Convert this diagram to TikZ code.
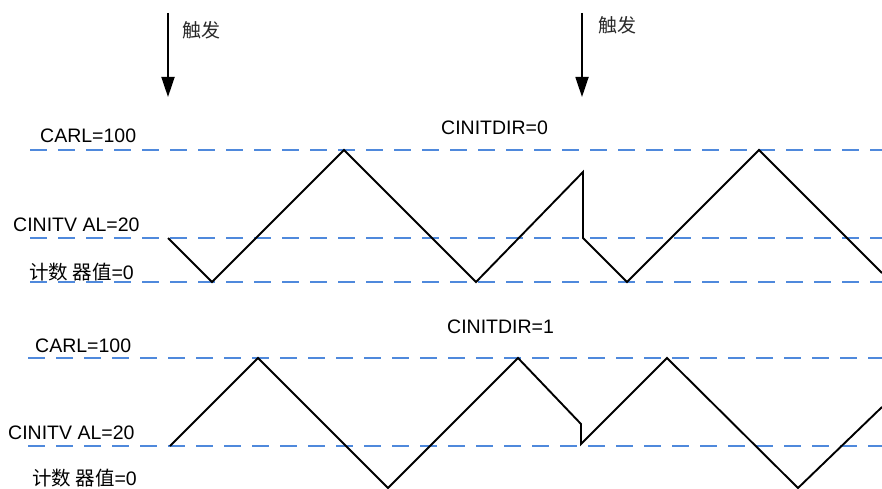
\documentclass[tikz,border=0pt]{standalone}
\usepackage{fontspec}
\setmainfont{Liberation Sans}
\newfontfamily\cjk{Noto Sans CJK SC}
\definecolor{levelblue}{RGB}{79, 137, 220}
\definecolor{trigray}{RGB}{40, 40, 40}
\usetikzlibrary{arrows.meta, positioning}

\begin{document}
\begin{tikzpicture}[x=1pt, y=-1pt,
    lbl/.style={anchor=west, inner sep=0pt, font=\fontsize{19.5}{20}\selectfont},
    cnlbl/.style={anchor=west, inner sep=0pt, text=trigray, font=\cjk\fontsize{19}{20}\selectfont},
    level/.style={levelblue, line width=2.3pt, dash pattern=on 17pt off 11pt},
    wave/.style={black, line width=1.9pt, line join=miter},
    trig/.style={line width=1.8pt, -{Triangle[length=20pt, width=13pt]}}]
    \useasboundingbox (0,0) rectangle (882,489);
    % trigger arrows
    \coordinate (t1s) at (168,13);
    \coordinate (t1e) at (168,97);
    \coordinate (t2s) at (582,13);
    \coordinate (t2e) at (582,97);
    \draw[trig] (t1s) -- (t1e);
    \draw[trig] (t2s) -- (t2e);
    \node[cnlbl] (trigA) at (182,30) {触发};
    \node[cnlbl] (trigB) at (598,25) {触发};
    % CINITDIR=0
    \node[lbl] (dirA) at (441,128) {CINITDIR=0};
    \node[lbl] (carlA) at (40,136) {CARL=100};
    \node[lbl] (valA) at (13,225) {CINITV AL=20};
    \node[lbl] (zeroA) at (29,272) {{\cjk 计数 器值}=0};
    \draw[level] (30,150) -- (882,150);
    \draw[level] (30,238) -- (882,238);
    \draw[level] (30,282) -- (882,282);
    \draw[wave] (168,238) -- (212,282) -- (344,150) -- (476,282) -- (583,172)
        -- (583,238) -- (627,282) -- (759,150) -- (882,273);
    % CINITDIR=1
    \node[lbl] (dirB) at (447,327) {CINITDIR=1};
    \node[lbl] (carlB) at (35,346) {CARL=100};
    \node[lbl] (valB) at (8,433) {CINITV AL=20};
    \node[lbl] (zeroB) at (32,478) {{\cjk 计数 器值}=0};
    \draw[level] (28,358) -- (882,358);
    \draw[level] (28,446) -- (882,446);
    \draw[wave] (170,446) -- (258,358) -- (388,488) -- (518,358) -- (581,424)
        -- (581,444) -- (667,358) -- (798,488) -- (882,407);
\end{tikzpicture}
\end{document}
